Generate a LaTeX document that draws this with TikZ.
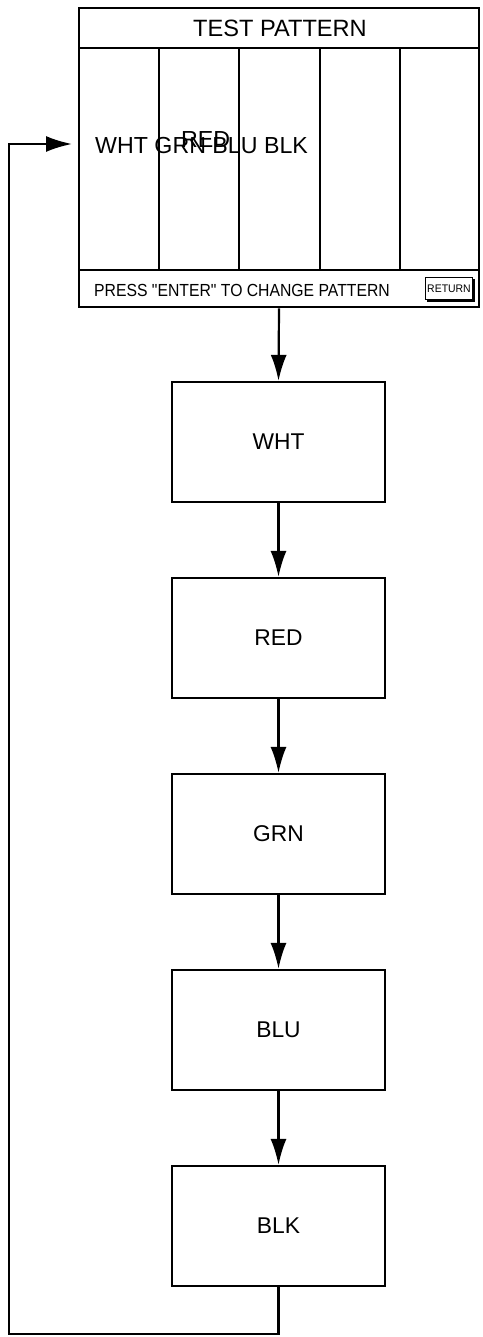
\documentclass[tikz,border=0pt]{standalone}
\usepackage{fontspec}
\setmainfont{Liberation Sans}
\usetikzlibrary{arrows.meta}
\begin{document}
\begin{tikzpicture}[x=1pt,y=-1pt,
  flowbox/.style={draw,line width=2.2pt,minimum width=213pt,minimum height=120pt,inner sep=0pt,font=\fontsize{22.8}{22.8}\selectfont},
  conn/.style={line width=2.2pt,-{Latex[length=26pt,width=16pt]}},
  thin/.style={line width=1.3pt},
  lbl/.style={inner sep=0pt,anchor=base}]
\useasboundingbox (0,0) rectangle (482,1337);
% screen
\node[draw,line width=2.6pt,minimum width=400pt,minimum height=299pt,inner sep=0pt] (screen) at (279,157.5) {};
\draw[thin] (79,48) -- (479,48);
\draw[thin] (79,270) -- (479,270);
\foreach \xx in {159,239,320,400} \draw[thin] (\xx,48) -- (\xx,270);
\node[lbl,font=\fontsize{23.6}{23.6}\selectfont] (title) at (280,37) {TEST PATTERN};
\node[lbl,anchor=base west,font=\fontsize{23.2}{23.2}\selectfont] (row) at (95,154) {WHT GRN BLU BLK};
\node[lbl,anchor=base west,font=\fontsize{23.2}{23.2}\selectfont] (red) at (181,148) {RED};
\node[lbl,anchor=base west,font=\fontsize{17.5}{17.5}\selectfont] (press) at (94,297) {\scalebox{0.9}[1]{PRESS \textquotedbl ENTER\textquotedbl{} TO CHANGE PATTERN}};
% RETURN button
\fill (427,279) rectangle (475,302);
\node[draw,fill=white,line width=1pt,minimum width=47pt,minimum height=22pt,inner sep=0pt,font=\fontsize{11}{11}\selectfont] (ret) at (449,288.5) {\scalebox{0.95}[1]{RETURN}};
% flow boxes
\node[flowbox] (wht) at (278.5,442) {WHT};
\node[flowbox] (red2) at (278.5,638) {RED};
\node[flowbox] (grn) at (278.5,834) {GRN};
\node[flowbox] (blu) at (278.5,1030) {BLU};
\node[flowbox] (blk) at (278.5,1226) {BLK};
\draw[conn] (screen.south) -- (wht.north);
\draw[conn] (wht) -- (red2);
\draw[conn] (red2) -- (grn);
\draw[conn] (grn) -- (blu);
\draw[conn] (blu) -- (blk);
\coordinate (lb) at (278.5,1334);
\coordinate (ll) at (9,1334);
\coordinate (lt) at (9,144);
\coordinate (entry) at (72,144);
\draw[conn,line join=miter] (blk.south) -- (lb) -- (ll) -- (lt) -- (entry);
\end{tikzpicture}
\end{document}
